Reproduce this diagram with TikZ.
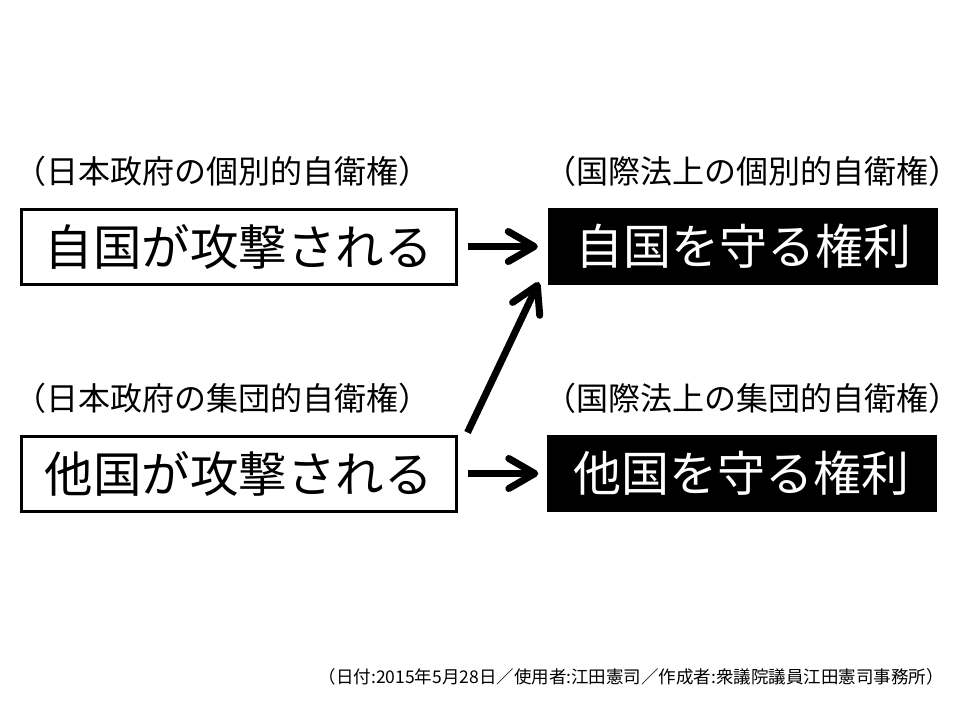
\documentclass[tikz,border=0pt]{standalone}
\usepackage{fontspec}
\setmainfont{Noto Sans CJK JP}
\newfontfamily\jp{Noto Sans CJK JP}
\usetikzlibrary{arrows.meta,calc}
\begin{document}
\begin{tikzpicture}[x=1pt,y=-1pt,
  leftbox/.style={draw=black,line width=3pt,minimum width=435pt,minimum height=75pt,inner sep=0pt,font=\jp\fontsize{48.5}{52}\selectfont},
  rightbox/.style={fill=black,text=white,minimum width=390pt,minimum height=77pt,inner sep=0pt,font=\jp\fontsize{48}{52}\selectfont},
  lab/.style={inner sep=0pt,font=\jp\fontsize{32}{36}\selectfont},
  bigarrow/.style={line width=7pt,-{Straight Barb[length=26pt,width=30pt,line cap=round,line join=round]}},
  foot/.style={inner sep=0pt,anchor=east,font=\jp\fontsize{17.5}{20}\selectfont}]
\useasboundingbox (0,0) rectangle (960,720);
\fill[white] (0,0) rectangle (960,720);
\node[leftbox] (l1) at (238.5,246.5) {自国が攻撃される};
\node[rightbox] (r1) at (743,246.5) {自国を守る権利};
\node[leftbox] (l2) at (238.5,473.5) {他国が攻撃される};
\node[rightbox] (r2) at (741.5,473.5) {他国を守る権利};
\node[lab] (t1) at (222,171) {（日本政府の個別的自衛権）};
\node[lab] (t2) at (752,171) {（国際法上の個別的自衛権）};
\node[lab] (t3) at (222,398) {（日本政府の集団的自衛権）};
\node[lab] (t4) at (752,398) {（国際法上の集団的自衛権）};
\draw[bigarrow,shorten <=10pt,shorten >=10pt] (l1.east) -- (r1.west);
\draw[bigarrow,shorten <=10pt,shorten >=8pt] (l2.east) -- (r2.west);
\coordinate (ds) at ($(l2.north east)+(10,-2)$);
\coordinate (de) at ($(r1.south west)+(-9,-3)$);
\draw[bigarrow] (ds) -- (de);
\node[foot] (f) at (944,677) {（日付:2015年5月28日／使用者:江田憲司／作成者:衆議院議員江田憲司事務所）};
\end{tikzpicture}
\end{document}
